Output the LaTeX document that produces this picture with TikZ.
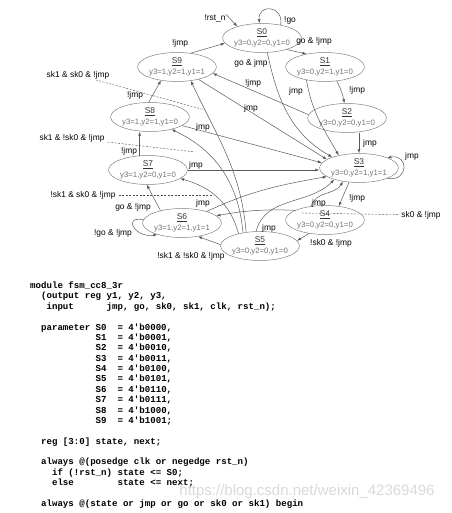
\documentclass[tikz,border=0pt]{standalone}
\usepackage{fontspec}
\setmainfont{Liberation Sans}
\setmonofont{Liberation Mono}
\usepackage{tikz}
\usetikzlibrary{arrows.meta, positioning, shapes.geometric}

\tikzset{
  fsmstate/.style = {ellipse, draw=black!50, line width=0.5pt, minimum width=66pt, minimum height=29pt,
                     inner sep=0pt, align=center, text=black!80, font=\fontsize{8.4}{10.6}\selectfont},
  trans/.style = {draw=black!65, line width=0.5pt, -{Latex[length=4pt,width=3pt]}},
  lbl/.style = {inner sep=0pt, font=\fontsize{8.4}{10}\selectfont},
  leader/.style = {draw=black!70, line width=0.4pt, dash pattern=on 2pt off 1.5pt, shorten <=3pt},
  codeline/.style = {anchor=base west, inner sep=0pt, font=\ttfamily\bfseries\fontsize{9.1}{10.4}\selectfont},
}
\newcommand{\statetext}[2]{\underline{#1}\\{\fontsize{7.8}{9}\selectfont\color{black!55}#2}}

\begin{document}
\begin{tikzpicture}[x=1pt, y=1pt]
  \useasboundingbox (0,0) rectangle (451,-513);

  % States
  \node[fsmstate] (s0) at (262,-38) {\statetext{S0}{y3=0,y2=0,y1=0}};
  \node[fsmstate] (s1) at (325,-67) {\statetext{S1}{y3=0,y2=1,y1=0}};
  \node[fsmstate] (s2) at (347,-118) {\statetext{S2}{y3=0,y2=0,y1=0}};
  \node[fsmstate] (s3) at (359,-168) {\statetext{S3}{y3=0,y2=1,y1=1}};
  \node[fsmstate] (s4) at (325,-220) {\statetext{S4}{y3=0,y2=0,y1=0}};
  \node[fsmstate] (s5) at (260,-246) {\statetext{S5}{y3=0,y2=0,y1=0}};
  \node[fsmstate] (s6) at (182,-223) {\statetext{S6}{y3=1,y2=1,y1=1}};
  \node[fsmstate] (s7) at (148,-170) {\statetext{S7}{y3=1,y2=0,y1=0}};
  \node[fsmstate] (s8) at (150,-117) {\statetext{S8}{y3=1,y2=1,y1=0}};
  \node[fsmstate] (s9) at (177,-67) {\statetext{S9}{y3=1,y2=1,y1=1}};

  % Reset
  \node[lbl] (rstn) at (215,-18) {!rst\_n};
  \draw[trans] (rstn.north east) -- (s0.155);

  % Transitions out of S0..S4
  \draw[trans] (s0.35) to[out=80, in=95, distance=20pt] (s0.100);
  \node[lbl] (l-s0s0) at (290,-20) {!go};
  \draw[trans] (s0.-25) -- (s1.145);
  \node[lbl] (l-s0s1) at (314,-41) {go \& !jmp};
  \draw[trans] (s0.-70) to[out=-78, in=150] (s3.158);
  \node[lbl] (l-s0s3) at (251,-63) {go \& jmp};

  \draw[trans] (s1.-50) to[bend left=8] (s2.100);
  \node[lbl] (l-s1s2) at (357,-90) {!jmp};
  \draw[trans] (s1.-145) to[out=-80, in=120] (s3.148);
  \node[lbl] (l-s1s3) at (296,-91) {jmp};

  \draw[trans] (s2.south -| s3.north) -- (s3.north);
  \node[lbl] (l-s2s3) at (370,-143) {jmp};
  \draw[trans] (s2.175) -- (s9.-10);
  \node[lbl] (l-s2s9) at (253,-83) {!jmp};

  \draw[trans] (s3.-20) to[out=-10, in=10, distance=22pt] (s3.20);
  \node[lbl] (l-s3s3) at (412,-156) {jmp};
  \draw[trans] (s3.-125) -- (s4.45);
  \node[lbl] (l-s3s4) at (357,-198) {!jmp};

  \draw[trans] (s4.135) to[out=75, in=-120] (s3.220);
  \node[lbl] (l-s4s3) at (319,-203) {jmp};
  \draw[trans] (s4.162) to[bend right=6] (s6.12);
  \node[lbl] (l-s4s6) at (421,-215) {sk0 \& !jmp};
  \coordinate (d-s4s6) at (300,-213);
  \draw[leader] (l-s4s6) -- (d-s4s6);
  \draw[trans] (s4.-140) -- (s5.8);
  \node[lbl] (l-s4s5) at (331,-243) {!sk0 \& !jmp};

  % Transitions out of S5
  \draw[trans] (s5.105) to[out=75, in=-135] (s3.205);
  \node[lbl] (l-s5s3) at (269,-228) {jmp};
  \draw[trans] (s5.178) -- (s6.-40);
  \node[lbl] (l-s5s6) at (191,-256) {!sk1 \& !sk0 \& !jmp};
  \draw[trans] (s5.150) to[out=105, in=-15] (s7.-15);
  \node[lbl] (l-s5s7) at (83,-195) {!sk1 \& sk0 \& !jmp};
  \coordinate (d-s5s7) at (212,-195);
  \draw[leader] (l-s5s7) -- (d-s5s7);
  \draw[trans] (s5.142) to[out=95, in=-25] (s8.-30);
  \node[lbl] (l-s5s8) at (72,-138) {sk1 \& !sk0 \& !jmp};
  \coordinate (d-s5s8) at (195,-152);
  \draw[leader] (l-s5s8) -- (d-s5s8);
  \draw[trans] (s5.135) to[out=95, in=-65] (s9.-45);
  \node[lbl] (l-s5s9) at (78,-75) {sk1 \& sk0 \& !jmp};
  \coordinate (d-s5s9) at (205,-110);
  \draw[leader] (l-s5s9) -- (d-s5s9);

  % Transitions out of S6..S9
  \draw[trans] (s6.25) to[out=25, in=-170] (s3.195);
  \node[lbl] (l-s6s3) at (203,-203) {jmp};
  \draw[trans] (s6.150) -- (s7.-95);
  \node[lbl] (l-s6s7) at (133,-207) {go \& !jmp};
  \draw[trans] (s6.175) to[out=170, in=190, distance=22pt] (s6.205);
  \node[lbl] (l-s6s6) at (113,-233) {!go \& !jmp};

  \draw[trans] (s7.east) -- (s7.east -| s3.west);
  \node[lbl] (l-s7s3) at (196,-165) {jmp};
  \draw[trans] (s7.120) -- (s7.120 |- s8.south);
  \node[lbl] (l-s7s8) at (129,-151) {!jmp};

  \draw[trans] (s8.-15) -- (s3.172);
  \node[lbl] (l-s8s3) at (203,-127) {jmp};
  \draw[trans] (s8.95) -- (s9.-140);
  \node[lbl] (l-s8s9) at (135,-95) {!jmp};

  \draw[trans] (s9.45) -- (s0.188);
  \node[lbl] (l-s9s0) at (180,-43) {!jmp};
  \draw[trans] (s9.-30) -- (s3.165);
  \node[lbl] (l-s9s3) at (251,-108) {jmp};

  % Verilog listing
  \foreach \n/\txt in {
      1/{module fsm\_cc8\_3r},
      2/{~~(output reg y1, y2, y3,},
      3/{~~~input~~~~~~jmp, go, sk0, sk1, clk, rst\_n);},
      5/{~~parameter S0~~= 4'b0000,},
      6/{~~~~~~~~~~~~S1~~= 4'b0001,},
      7/{~~~~~~~~~~~~S2~~= 4'b0010,},
      8/{~~~~~~~~~~~~S3~~= 4'b0011,},
      9/{~~~~~~~~~~~~S4~~= 4'b0100,},
      10/{~~~~~~~~~~~~S5~~= 4'b0101,},
      11/{~~~~~~~~~~~~S6~~= 4'b0110,},
      12/{~~~~~~~~~~~~S7~~= 4'b0111,},
      13/{~~~~~~~~~~~~S8~~= 4'b1000,},
      14/{~~~~~~~~~~~~S9~~= 4'b1001;},
      16/{~~reg [3:0] state, next;},
      18/{~~always @(posedge clk or negedge rst\_n)},
      19/{~~~~if (!rst\_n) state <= S0;},
      20/{~~~~else~~~~~~~~state <= next;},
      22/{~~always @(state or jmp or go or sk0 or sk1) begin}}
    \node[codeline] (code\n) at (30,{-288.5-(\n-1)*10.38}) {\txt};

  \node[inner sep=0pt, font=\fontsize{15}{16}\selectfont, text=black!15] (watermark) at (307,-492) {https://blog.csdn.net/weixin\_42369496};
\end{tikzpicture}
\end{document}
